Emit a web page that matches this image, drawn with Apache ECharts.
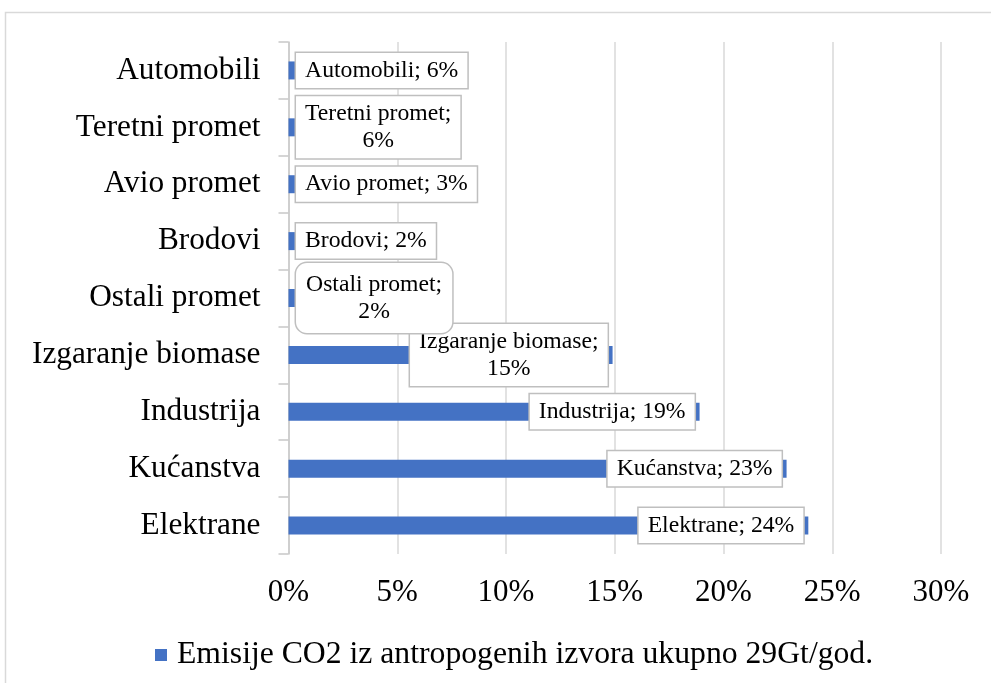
<!DOCTYPE html>
<html>
<head>
<meta charset="utf-8">
<script src="https://cdn.jsdelivr.net/npm/echarts@6/dist/echarts.min.js"></script>
<style>
html,body{margin:0;padding:0;background:#fff;}
#chart{width:991px;height:683px;}
</style>
</head>
<body>
<div id="chart"></div>
<script>
const seriesName = 'Emisije CO2 iz antropogenih izvora ukupno 29Gt/god.';
const categories = ['Elektrane', 'Kućanstva', 'Industrija', 'Izgaranje biomase', 'Ostali promet', 'Brodovi', 'Avio promet', 'Teretni promet', 'Automobili'];
const barValues = [23.9, 22.9, 18.9, 14.9, 0.3, 0.3, 0.3, 0.3, 0.3];
const labelPercents = [24, 23, 19, 15, 2, 2, 3, 6, 6];
const wrappedLabels = ['Izgaranje biomase', 'Ostali promet', 'Teretni promet'];
const roundedLabels = ['Ostali promet'];
const xTicks = [0, 5, 10, 15, 20, 25, 30];

const FONT = 'Liberation Serif, Times New Roman, serif';

const data = categories.map((c, i) => {
  const big = barValues[i] > 5;
  const rounded = roundedLabels.includes(c);
  const txt = wrappedLabels.includes(c)
    ? '{t|' + c + ';}\n{t|' + labelPercents[i] + '%}'
    : '{t|' + c + '; ' + labelPercents[i] + '%}';
  return {
    value: barValues[i],
    label: {
      show: true,
      position: big ? 'insideRight' : 'right',
      align: big ? 'right' : 'left',
      distance: big ? 5 : 1,
      borderRadius: rounded ? 11 : 0,
      padding: rounded ? [8, 10, 8, 10] : [4, 9, 4, 9],
      formatter: txt
    }
  };
});

const chart = echarts.init(document.getElementById('chart'), null, {renderer: 'canvas'});
chart.setOption({
  backgroundColor: '#fff',
  animation: false,
  graphic: [{
    type: 'rect',
    shape: {x: 5.5, y: 12.5, width: 1100, height: 800},
    style: {fill: 'none', stroke: '#d9d9d9', lineWidth: 1.5},
    silent: true,
    z: -10
  }],
  grid: {left: 288.5, right: 50, top: 42, bottom: 129, containLabel: false},
  legend: {
    data: [seriesName],
    left: 150,
    top: 634,
    icon: 'rect',
    itemWidth: 12,
    itemHeight: 12,
    textStyle: {fontFamily: FONT, fontSize: 31.7, color: '#000', padding: [0, 0, 0, 5]}
  },
  xAxis: {
    type: 'value',
    min: xTicks[0],
    max: xTicks[xTicks.length - 1],
    interval: 5,
    axisLine: {show: false},
    axisTick: {show: false},
    axisLabel: {formatter: '{value}%', fontFamily: FONT, fontSize: 31, color: '#000', margin: 23},
    splitLine: {show: true, lineStyle: {color: '#d9d9d9', width: 1.5}}
  },
  yAxis: {
    type: 'category',
    data: categories,
    axisLine: {show: true, lineStyle: {color: '#c8c8c8', width: 1.5}},
    axisTick: {show: true, length: 10, lineStyle: {color: '#c8c8c8', width: 1.5}},
    axisLabel: {fontFamily: FONT, fontSize: 31.3, color: '#000', margin: 28},
    splitLine: {show: false}
  },
  series: [{
    name: seriesName,
    type: 'bar',
    data: data,
    barWidth: 18,
    itemStyle: {color: '#4472c4'},
    label: {
      show: true,
      fontFamily: FONT,
      fontSize: 23.7,
      lineHeight: 27,
      color: '#000',
      backgroundColor: '#fff',
      borderColor: '#bfbfbf',
      borderWidth: 1.5,
      padding: [4, 9, 4, 9],
      rich: {
        t: {fontFamily: FONT, fontSize: 23.7, lineHeight: 27, color: '#000', align: 'center'}
      }
    },
    labelLayout: {hideOverlap: false}
  }]
});
</script>
</body>
</html>
